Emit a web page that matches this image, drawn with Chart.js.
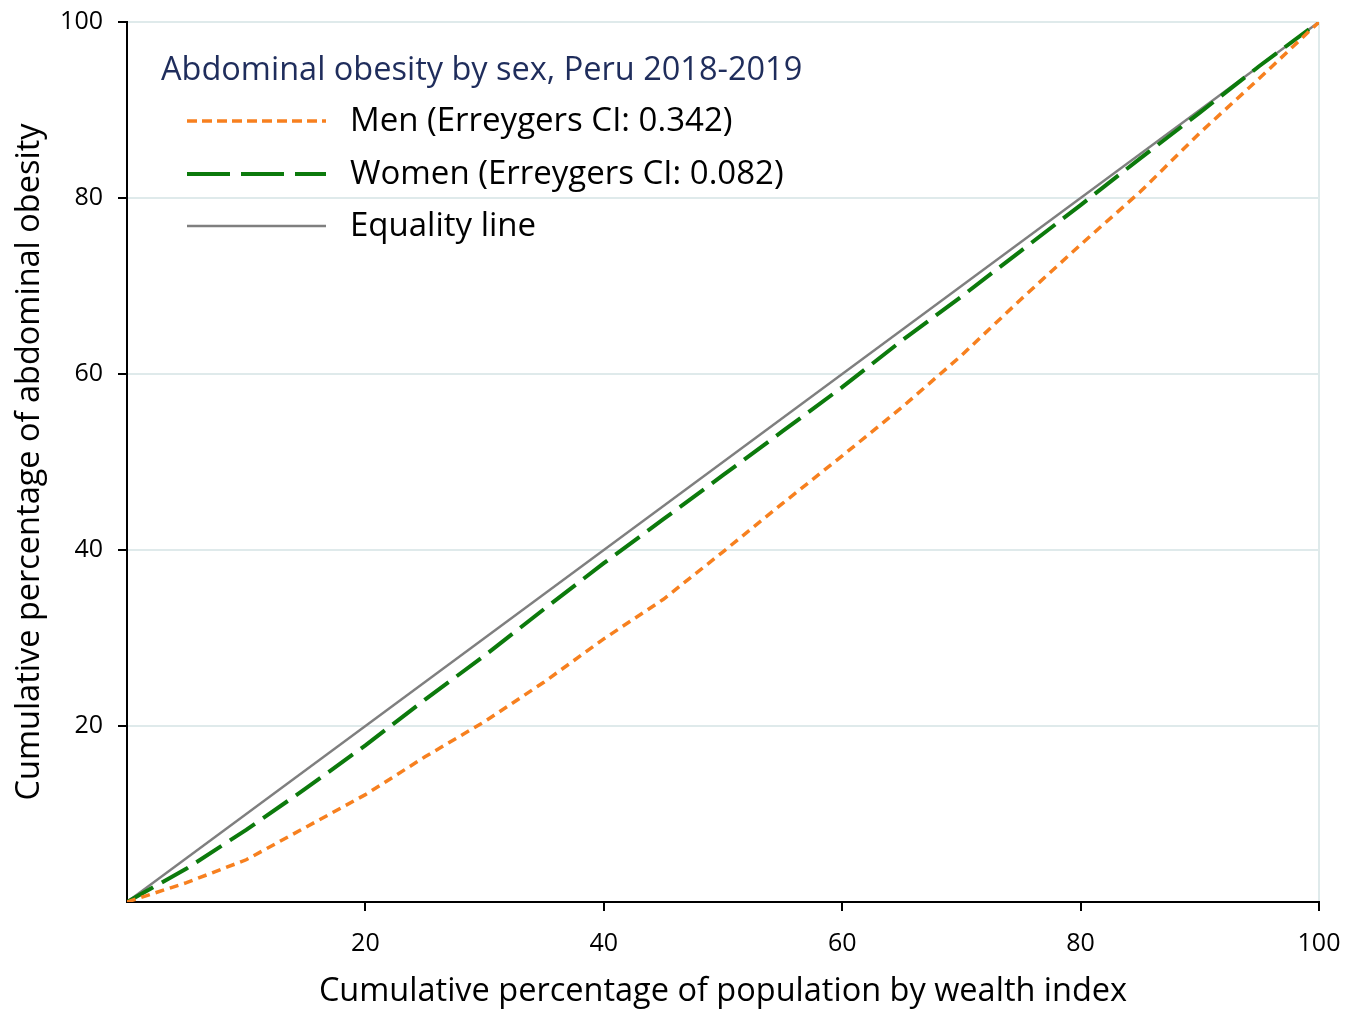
<!DOCTYPE html>
<html>
<head>
<meta charset="utf-8">
<script src="https://cdn.jsdelivr.net/npm/chart.js@4/dist/chart.umd.min.js"></script>
<style>
  html, body { margin: 0; padding: 0; background: #fff; }
  #wrap { width: 1359px; height: 1011px; }
</style>
</head>
<body>
<div id="wrap"><canvas id="grafico"></canvas></div>
<script>
// Cumulative % of population (wealth index)
const popPct = [0, 5, 10, 15, 20, 25, 30, 35, 40, 45, 50, 55, 60, 65, 70, 75, 80, 85, 90, 95, 100];
// Cumulative % of abdominal obesity
const menValues = [0, 2.2, 4.8, 8.5, 12.2, 16.5, 20.5, 25, 29.9, 34.4, 39.8, 45.3, 50.7, 56.2, 62.1, 68.5, 74.7, 80.7, 87.4, 93.6, 100];
const womenValues = [0, 3.8, 8.2, 12.9, 17.8, 23, 28, 33.3, 38.5, 43.5, 48.5, 53.5, 58.5, 63.8, 68.8, 74, 79.2, 84.5, 89.7, 95, 100];
const equalityX = [0, 100];
const equalityY = [0, 100];

const legendTitle = 'Abdominal obesity by sex, Peru 2018-2019';
const seriesLabels = ['Men (Erreygers CI: 0.342)', 'Women (Erreygers CI: 0.082)', 'Equality line'];
const xTicks = [20, 40, 60, 80, 100];
const yTicks = [20, 40, 60, 80, 100];

const FONT = '"Open Sans", "Noto Sans", sans-serif';
const GRID = '#dfeaeb';

function pontos(xs, ys) {
  return xs.map((x, i) => ({ x: x, y: ys[i] }));
}

// legend drawn inside the plot, top-left
const legendaInterna = {
  id: 'legendaInterna',
  afterDatasetsDraw(chart) {
    const ctx = chart.ctx;
    ctx.save();
    ctx.textBaseline = 'middle';
    ctx.textAlign = 'left';
    ctx.font = '32.5px ' + FONT;
    ctx.fillStyle = '#1f2d5c';
    ctx.fillText(legendTitle, 161, 71);
    const rows = [122, 175, 227];
    chart.data.datasets.forEach((ds, i) => {
      const y = rows[i];
      ctx.beginPath();
      ctx.lineWidth = ds.borderWidth;
      ctx.strokeStyle = ds.borderColor;
      ctx.setLineDash(ds.legendDash || []);
      ctx.moveTo(187, y - 1);
      ctx.lineTo(326, y - 1);
      ctx.stroke();
      ctx.setLineDash([]);
      ctx.fillStyle = '#000';
      ctx.font = '33px ' + FONT;
      ctx.fillText(ds.label, 350, y);
    });
    ctx.restore();
  }
};

const ctx = document.getElementById('grafico').getContext('2d');
const chart = new Chart(ctx, {
  type: 'line',
  data: {
    datasets: [
      {
        label: seriesLabels[0],
        data: pontos(popPct, menValues),
        borderColor: '#f7801f',
        borderWidth: 3.5,
        borderDash: [9, 6],
        legendDash: [10, 5],
        pointRadius: 0,
        tension: 0
      },
      {
        label: seriesLabels[1],
        data: pontos(popPct, womenValues),
        borderColor: '#0c7a0c',
        borderWidth: 4,
        borderDash: [30, 10],
        legendDash: [43, 11],
        pointRadius: 0,
        tension: 0
      },
      {
        label: seriesLabels[2],
        data: pontos(equalityX, equalityY),
        borderColor: '#7f7f7f',
        borderWidth: 2.5,
        legendDash: [],
        pointRadius: 0,
        tension: 0
      }
    ]
  },
  options: {
    responsive: true,
    maintainAspectRatio: false,
    animation: false,
    layout: { padding: { left: 0, right: 40, top: 22, bottom: 0 } },
    plugins: {
      legend: { display: false },
      tooltip: { enabled: false }
    },
    scales: {
      x: {
        type: 'linear',
        min: 0,
        max: 100,
        afterFit: (axis) => {
          axis.height = 109;
          axis.paddingLeft = 0;
          axis.paddingRight = 0;
        },
        afterBuildTicks: (axis) => { axis.ticks = [0].concat(xTicks).map(v => ({ value: v })); },
        ticks: {
          callback: (v) => (v === 0 ? '' : v),
          color: '#000',
          font: { family: FONT, size: 25 },
          padding: 18,
          maxRotation: 0
        },
        grid: {
          color: (c) => (c.tick && c.tick.value === 100 ? GRID : 'rgba(0,0,0,0)'),
          lineWidth: 2,
          tickColor: (c) => (c.tick && c.tick.value === 0 ? 'rgba(0,0,0,0)' : '#000'),
          tickLength: 9,
          tickWidth: 2
        },
        border: { color: '#000', width: 2 },
        title: {
          display: true,
          text: 'Cumulative percentage of population by wealth index',
          color: '#000',
          font: { family: FONT, size: 32.5 },
          padding: { top: 0, bottom: 0 }
        }
      },
      y: {
        type: 'linear',
        min: 0,
        max: 100,
        afterFit: (axis) => {
          axis.width = 127;
          axis.paddingTop = 0;
          axis.paddingBottom = 0;
        },
        afterBuildTicks: (axis) => { axis.ticks = [0].concat(yTicks).map(v => ({ value: v })); },
        ticks: {
          callback: (v) => (v === 0 ? '' : v),
          color: '#000',
          font: { family: FONT, size: 25 },
          padding: 15
        },
        grid: {
          color: (c) => (c.tick && c.tick.value === 0 ? 'rgba(0,0,0,0)' : GRID),
          lineWidth: 2,
          tickColor: (c) => (c.tick && c.tick.value === 0 ? 'rgba(0,0,0,0)' : '#000'),
          tickLength: 9,
          tickWidth: 2
        },
        border: { color: '#000', width: 2 },
        title: {
          display: true,
          text: 'Cumulative percentage of abdominal obesity',
          color: '#000',
          font: { family: FONT, size: 32.5 },
          padding: { top: 10, bottom: 0 }
        }
      }
    }
  },
  plugins: [legendaInterna]
});
</script>
</body>
</html>
